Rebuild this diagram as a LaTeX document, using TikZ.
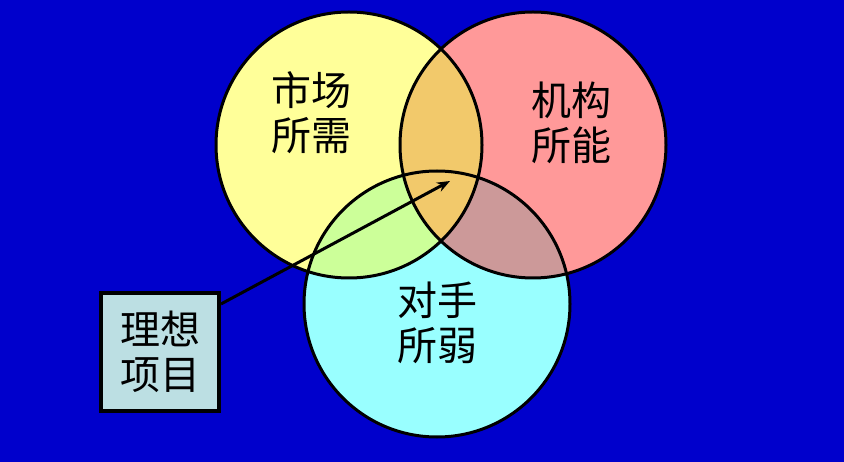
\documentclass[tikz,border=0pt]{standalone}
\usepackage{fontspec}
\newfontfamily\cjk{Noto Sans CJK SC}
\usetikzlibrary{arrows.meta}
\definecolor{bgblue}{HTML}{0000CC}
\definecolor{cyel}{HTML}{FFFF99}
\definecolor{cred}{HTML}{FF9999}
\definecolor{ccyan}{HTML}{99FFFF}
\definecolor{corange}{HTML}{F2C96B}
\definecolor{cgreen}{HTML}{CCFF99}
\definecolor{cmauve}{HTML}{CC9999}
\definecolor{cbox}{HTML}{BCDFE3}
\begin{document}
\begin{tikzpicture}[x=1pt,y=-1pt,
  lbl/.style={font=\cjk\fontsize{40}{45}\selectfont, align=center, text=black, inner sep=0pt},
  ring/.style={draw=black, line width=3pt, circle, inner sep=0pt, minimum size=266pt}]
\fill[bgblue] (0,0) rectangle (844,462);
\useasboundingbox (0,0) rectangle (844,462);
\coordinate (cy) at (349,145);
\coordinate (cr) at (533,145);
\coordinate (cc) at (437,304);
\fill[cyel] (cy) circle[radius=133pt];
\fill[cred] (cr) circle[radius=133pt];
\fill[ccyan] (cc) circle[radius=133pt];
\begin{scope}
  \clip (cy) circle[radius=133pt];
  \fill[cgreen] (cc) circle[radius=133pt];
\end{scope}
\begin{scope}
  \clip (cr) circle[radius=133pt];
  \fill[cmauve] (cc) circle[radius=133pt];
\end{scope}
\begin{scope}
  \clip (cy) circle[radius=133pt];
  \fill[corange] (cr) circle[radius=133pt];
\end{scope}
\node[ring] (market) at (cy) {};
\node[ring] (org) at (cr) {};
\node[ring] (rival) at (cc) {};
\node[lbl] (t1) at (311,113) {市场\\所需};
\node[lbl] (t2) at (571,123) {机构\\所能};
\node[lbl] (t3) at (437,323) {对手\\所弱};
\node[lbl, draw=black, line width=4pt, fill=cbox, minimum width=118pt, minimum height=118pt] (box) at (160,352) {理想\\项目};
\coordinate (tip) at (450,181);
\draw[line width=3pt, -{Stealth[length=13pt,width=10pt]}] ([yshift=-13pt]box.north east) -- (tip);
\end{tikzpicture}
\end{document}
